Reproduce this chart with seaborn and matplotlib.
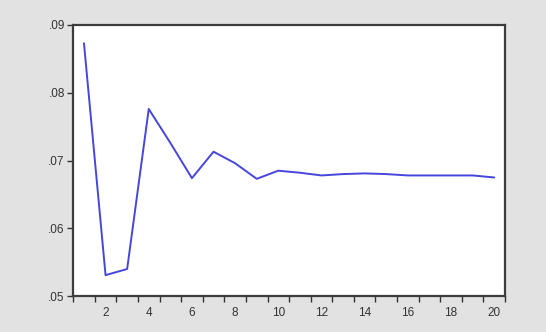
import numpy as np
import pandas as pd
import matplotlib
matplotlib.use("Agg")
import matplotlib.pyplot as plt
import seaborn as sns
from matplotlib.ticker import FuncFormatter, MultipleLocator

# values
periods = list(range(1, 21))
values = [0.0873, 0.0531, 0.0540, 0.0776, 0.0726, 0.0674, 0.0713, 0.0696,
          0.0673, 0.0685, 0.0682, 0.0678, 0.0680, 0.0681, 0.0680, 0.0678,
          0.0678, 0.0678, 0.0678, 0.0675]
y_ticks = [0.05, 0.06, 0.07, 0.08, 0.09]
x_labels = list(range(2, 21, 2))

df = pd.DataFrame({"period": periods, "value": values})

sns.set_style("white")
plt.rcParams['font.family'] = ['Liberation Sans', 'DejaVu Sans']

fig = plt.figure(figsize=(5.46, 3.32), dpi=100, facecolor='#e2e2e2')
ax = fig.add_axes([0.134, 0.108, 0.791, 0.817])
ax.set_facecolor('white')

sns.lineplot(data=df, x='period', y='value', ax=ax, color='#4646dc', linewidth=1.4)

ax.set_xlim(0.5, 20.5)
ax.set_ylim(0.05, 0.09)
ax.set_xticks(x_labels)
ax.xaxis.set_minor_locator(MultipleLocator(1, offset=0.5))
ax.set_yticks(y_ticks)
ax.yaxis.set_major_formatter(FuncFormatter(lambda v, p: ('%.2f' % v).lstrip('0')))

ax.tick_params(axis='x', which='major', length=0, pad=8, labelsize=8.5, labelcolor='#333333')
ax.tick_params(axis='x', which='minor', length=4, width=1, color='#333333', direction='out')
ax.tick_params(axis='y', which='major', length=4, width=1, color='#333333', direction='out',
               labelsize=8.5, labelcolor='#333333', pad=2)
ax.xaxis.set_tick_params(bottom=True, which='both')
ax.yaxis.set_tick_params(left=True)

for s in ax.spines.values():
    s.set_visible(True)
    s.set_color('#3c3c3c')
    s.set_linewidth(1.6)

ax.set_xlabel("")
ax.set_ylabel("")

fig.savefig("out.png", dpi=100, facecolor=fig.get_facecolor())
